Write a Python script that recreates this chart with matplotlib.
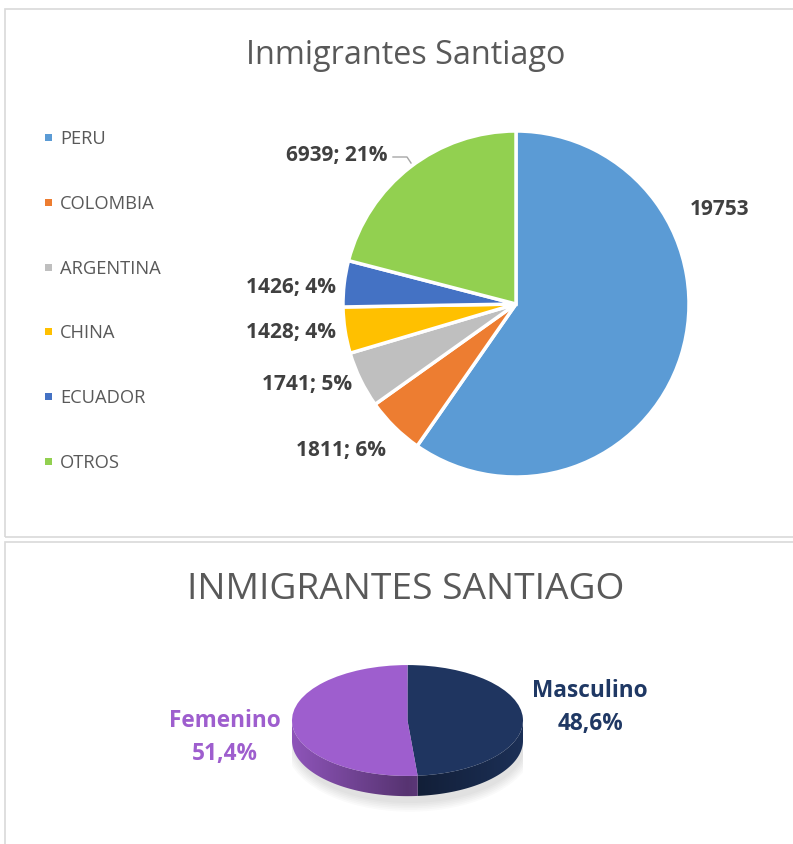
import matplotlib.pyplot as plt
import numpy as np
from matplotlib.patches import Rectangle, Polygon, Ellipse
from matplotlib.transforms import Affine2D
from matplotlib.colors import to_rgb

plt.rcParams['font.family'] = ['Open Sans', 'DejaVu Sans']

# data
paises = ["PERU", "COLOMBIA", "ARGENTINA", "CHINA", "ECUADOR", "OTROS"]
inmigrantes = [19753, 1811, 1741, 1428, 1426, 6939]
porcentajes = [None, 6, 5, 4, 4, 21]
colores = ["#5B9BD5", "#ED7D31", "#BFBFBF", "#FFC000", "#4472C4", "#92D050"]

sexos = ["Masculino", "Femenino"]
sexo_pct = [48.6, 51.4]
sexo_colores = ["#1F3560", "#9E5ECE"]
sexo_texto = ["#1F3864", "#9E5ECE"]

W, H = 793, 845
fig = plt.figure(figsize=(W / 100, H / 100), dpi=100)


def px(x, y):
    return x / W, 1 - y / H


# panel borders
for (x0, y0, x1, y1) in [(5, 10, 820, 538), (5, 543, 820, 870)]:
    fig.add_artist(Rectangle(px(x0, y1), (x1 - x0) / W, (y1 - y0) / H,
                             transform=fig.transFigure, fill=False,
                             edgecolor="#D9D9D9", lw=1.2))

# ---- top chart ----
fig.text(*px(406, 55), "Inmigrantes Santiago", ha="center", va="center",
         fontsize=23.3, color="#595959")

ax = fig.add_axes([343 / W, 1 - 478 / H, 346 / W, 346 / H])
wedges, _ = ax.pie(inmigrantes, colors=colores, startangle=90, counterclock=False,
                   radius=1, wedgeprops=dict(edgecolor="white", linewidth=2.5))
ax.set_xlim(-1, 1)
ax.set_ylim(-1, 1)
ax.set_aspect("equal")
ax.axis("off")

etiquetas = []
for v, p in zip(inmigrantes, porcentajes):
    etiquetas.append(str(v) if p is None else "%d; %d%%" % (v, p))

label_px = [(720, 210), (341, 451), (307, 385), (291, 333), (291, 287), (337, 156)]
for txt, (x, y) in zip(etiquetas, label_px):
    fig.text(*px(x, y), txt, ha="center", va="center", fontsize=15,
             fontweight="bold", color="#404040")

# leader line for OTROS
fig.add_artist(plt.Line2D([393 / W, 407 / W, 411 / W],
                          [1 - 158 / H, 1 - 158 / H, 1 - 164 / H],
                          color="#A6A6A6", lw=1, transform=fig.transFigure))

# legend
for i, (nombre, c) in enumerate(zip(paises, colores)):
    y = 139 + i * 64.8
    fig.add_artist(Rectangle(px(45, y + 3), 7 / W, 7 / H, transform=fig.transFigure,
                             facecolor=c, edgecolor="none"))
    fig.text(*px(60, y), nombre, ha="left", va="center", fontsize=13.2,
             color="#595959")

# ---- bottom chart (3D-look pie) ----
fig.text(*px(406, 590), "INMIGRANTES SANTIAGO", ha="center", va="center",
         fontsize=26.8, color="#595959")

ax2 = fig.add_axes([292 / W, 1 - 837 / H, 231 / W, 231 / H])

ry = 0.48
depth = 0.175

w2, _ = ax2.pie(sexo_pct, colors=sexo_colores, startangle=90, counterclock=False,
                radius=1, wedgeprops=dict(linewidth=0))
squash = Affine2D().scale(1, ry) + ax2.transData
for w in w2:
    w.set_transform(squash)
    w.set_zorder(3)
ax2.set_xlim(-1, 1)
ax2.set_ylim(-1, 1)
ax2.set_aspect("equal")
ax2.axis("off")

# soft shadow under the pie
for k in range(6):
    ax2.add_patch(Ellipse((0.02, -0.21), 2.0 + 0.03 * k, 2 * ry + 0.05 + 0.03 * k,
                          facecolor="#000000", alpha=0.018, edgecolor="none", zorder=1))

# side wall: one polygon per slice (front half), filled with a shaded gradient
xs = np.linspace(-1, 1, 400)
shade = 0.55 + 0.35 * np.abs(xs)
for w, c in zip(w2, sexo_colores):
    t1, t2 = w.theta1 % 360, w.theta2 % 360
    if t2 <= t1:
        t2 += 360
    angs = np.linspace(t1, t2, 300)
    angs = angs[((angs % 360) >= 180) & ((angs % 360) <= 360) | (angs % 360 == 0)]
    if len(angs) < 2:
        continue
    r = np.radians(angs)
    top = np.column_stack([np.cos(r), ry * np.sin(r)])
    bot = np.column_stack([np.cos(r[::-1]), ry * np.sin(r[::-1]) - depth])
    poly = Polygon(np.vstack([top, bot]), closed=True, facecolor="none",
                   edgecolor="none", zorder=2)
    ax2.add_patch(poly)
    base = np.array(to_rgb(c))
    img = np.clip(shade[None, :, None] * base[None, None, :], 0, 1)
    im = ax2.imshow(img, extent=(-1, 1, -ry - depth - 0.02, 0.02), aspect="auto",
                    zorder=2, interpolation="bilinear")
    im.set_clip_path(poly)
ax2.set_xlim(-1, 1)
ax2.set_ylim(-1, 1)

fig.text(*px(225, 721), "Femenino", ha="center", va="center", fontsize=16.3,
         fontweight="bold", color=sexo_texto[1])
fig.text(*px(225, 754), "%s%%" % str(sexo_pct[1]).replace(".", ","), ha="center",
         va="center", fontsize=16.3, fontweight="bold", color=sexo_texto[1])
fig.text(*px(590, 691), "Masculino", ha="center", va="center", fontsize=16.3,
         fontweight="bold", color=sexo_texto[0])
fig.text(*px(590, 724), "%s%%" % str(sexo_pct[0]).replace(".", ","), ha="center",
         va="center", fontsize=16.3, fontweight="bold", color=sexo_texto[0])

plt.savefig("out.png", dpi=100)
plt.close()
